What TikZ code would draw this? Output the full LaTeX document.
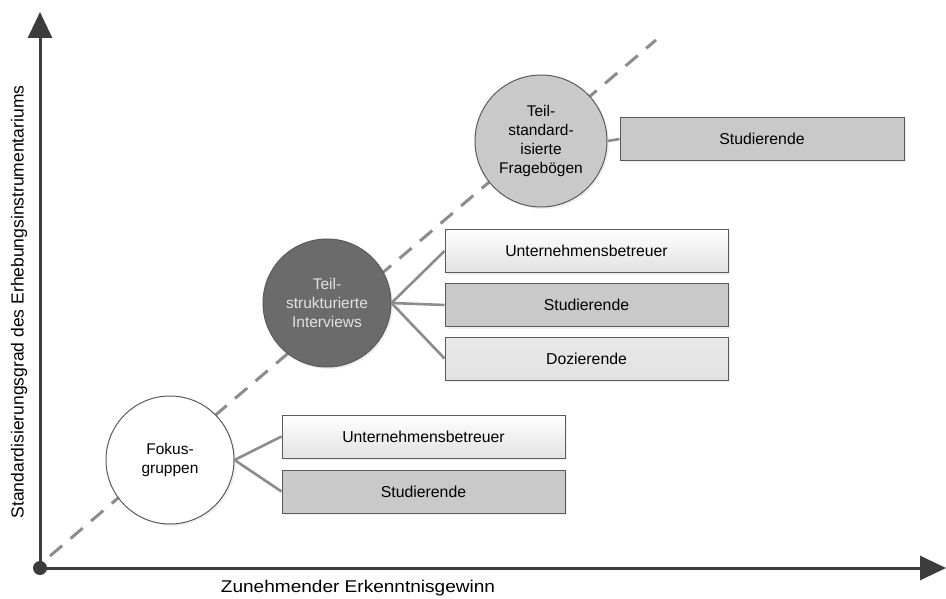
\documentclass[tikz,border=0pt]{standalone}
\usepackage{fontspec}
\setmainfont{Liberation Sans}
\usetikzlibrary{arrows.meta,shadows}
\definecolor{axisc}{HTML}{3C3C3C}
\definecolor{linec}{HTML}{8C8C8C}
\definecolor{borderc}{HTML}{5A5A5A}
\definecolor{midgray}{HTML}{C9C9C9}
\definecolor{darkc}{HTML}{6B6B6B}
\definecolor{lightc}{HTML}{E2E2E2}
\begin{document}
\begin{tikzpicture}[x=1pt,y=-1pt,
  axis/.style={draw=axisc,line width=3pt,-{Triangle[length=26pt,width=24pt]}},
  conn/.style={draw=linec,line width=2.6pt},
  cstyle/.style={circle,draw=borderc,line width=1pt,minimum size=128pt,inner sep=0pt,align=center,font=\fontsize{15.5}{19}\selectfont,drop shadow={opacity=0.12,shadow xshift=2pt,shadow yshift=-2pt}},
  bstyle/.style={rectangle,draw=borderc,line width=1pt,minimum width=283pt,minimum height=43pt,inner sep=0pt,font=\fontsize{15.8}{19}\selectfont,drop shadow={opacity=0.12,shadow xshift=2pt,shadow yshift=-2pt}},
  whitebox/.style={bstyle,top color=white,bottom color=lightc},
  graybox/.style={bstyle,fill=midgray},
  lightbox/.style={bstyle,top color=lightc!80!white,bottom color=lightc}]
\useasboundingbox (0,0) rectangle (946,599);
% axes
\coordinate (O) at (40,568);
\coordinate (Ytip) at (40,12);
\coordinate (Xtip) at (946,568);
\coordinate (D1) at (50,556);
\coordinate (D2) at (656,40);
\draw[draw=linec,line width=3pt,dash pattern=on 16pt off 11pt] (D1) -- (D2);
\draw[axis] (O) -- (Ytip);
\draw[axis] (O) -- (Xtip);
\fill[axisc] (O) circle (7pt);
\node[rotate=90,font=\fontsize{17.5}{19}\selectfont] (ylab) at (19,302) {Standardisierungsgrad des Erhebungsinstrumentariums};
\node[font=\fontsize{17}{19}\selectfont,xscale=1.12] (xlab) at (358,588) {Zunehmender Erkenntnisgewinn};
% circles
\node[cstyle,fill=white] (c1) at (170,460) {Fokus-\\gruppen};
\node[cstyle,fill=darkc,text=lightc] (c2) at (327,303) {Teil-\\strukturierte\\Interviews};
\node[cstyle,fill=midgray,minimum size=132pt] (c3) at (541,141) {Teil-\\standard-\\isierte\\Fragebögen};
% boxes
\node[whitebox] (b11) at (423.5,436.5) {Unternehmensbetreuer};
\node[graybox] (b12) at (423.5,491.5) {Studierende};
\node[whitebox] (b21) at (586.5,251) {Unternehmensbetreuer};
\node[graybox] (b22) at (586.5,305) {Studierende};
\node[lightbox] (b23) at (586.5,358.5) {Dozierende};
\node[graybox,minimum width=284pt] (b31) at (762,139) {Studierende};
% connectors
\draw[conn] (c1.east) -- (b11.west);
\draw[conn] (c1.east) -- (b12.west);
\draw[conn] (c2.east) -- (b21.west);
\draw[conn] (c2.east) -- (b22.west);
\draw[conn] (c2.east) -- (b23.west);
\draw[conn] (c3.east) -- (b31.west);
\end{tikzpicture}
\end{document}
